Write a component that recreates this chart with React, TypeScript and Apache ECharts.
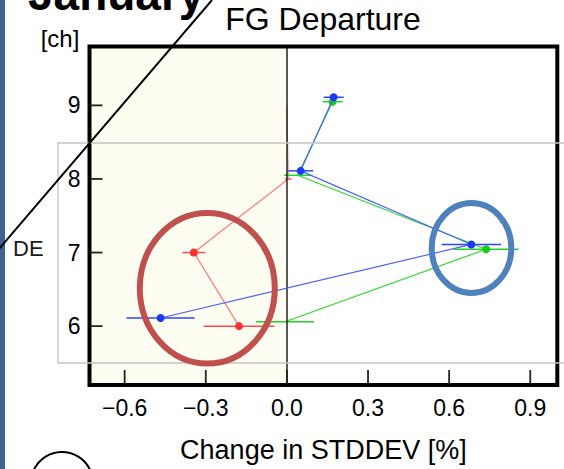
import React, { useEffect, useRef } from "react";
import * as echarts from "echarts";

// ---- data ----
const xTickValues = [-0.6, -0.3, 0, 0.3, 0.6, 0.9];
const yTickValues = [6, 7, 8, 9];

const redX = [0.0, 0.005, -0.344, -0.177];
const redY = [9.0, 8.0, 7.0, 6.0];
const redErr = [0, 0.012, 0.043, 0.131];
const redDot = [false, false, true, true];

const greenX = [0.169, 0.04, 0.737, -0.007];
const greenY = [9.05, 8.05, 7.045, 6.06];
const greenErr = [0.037, 0.05, 0.12, 0.107];
const greenDot = [true, false, true, false];

const blueX = [0.173, 0.051, 0.682, -0.467];
const blueY = [9.11, 8.11, 7.11, 6.11];
const blueErr = [0.037, 0.046, 0.11, 0.126];
const blueDot = [true, true, true, true];

const X_MIN = -0.73;
const X_MAX = 1.0;
const Y_MIN = 5.2;
const Y_MAX = 9.8;

const FONT = '"Liberation Sans", Arial, sans-serif';

const G_LEFT = 89.5, G_RIGHT = 6.7, G_TOP = 46.5, G_BOTTOM = 84;
const W = 564, H = 469;

function lineSeries(name: string, xs: number[], ys: number[], dots: boolean[], lineColor: string, dotColor: string, z: number, extra: any = {}) {
  return {
    type: "line",
    name,
    z,
    symbol: "circle",
    showSymbol: true,
    data: xs.map((x, i) => ({ value: [x, ys[i]], symbolSize: dots[i] ? 8 : 0 })),
    lineStyle: { color: lineColor, width: 1.2 },
    itemStyle: { color: dotColor },
    ...extra,
  };
}

function errSeries(xs: number[], ys: number[], errs: number[], color: string, z: number) {
  return {
    type: "custom",
    z,
    data: xs.map((x, i) => [x, ys[i], errs[i]]),
    encode: { x: 0, y: 1 },
    renderItem: (params: any, api: any) => {
      const x = api.value(0);
      const y = api.value(1);
      const e = api.value(2);
      if (!e) return null;
      const a = api.coord([x - e, y]);
      const b = api.coord([x + e, y]);
      return {
        type: "line",
        shape: { x1: a[0], y1: a[1], x2: b[0], y2: b[1] },
        style: { stroke: color, lineWidth: 1.5 },
      };
    },
  };
}

// plot frame positioned from the cartesian coordinate system
function frameSeries() {
  return {
    type: "custom",
    z: 60,
    clip: false,
    silent: true,
    data: [[0, 7]],
    encode: { x: 0, y: 1 },
    renderItem: (params: any) => {
      const cs = params.coordSys;
      return {
        type: "rect",
        shape: { x: cs.x, y: cs.y, width: cs.width, height: cs.height },
        style: { fill: "none", stroke: "#000", lineWidth: 4 },
      };
    },
  };
}

export default function App() {
  const ref = useRef<HTMLDivElement>(null);
  useEffect(() => {
    if (!ref.current) return;
    const chart = echarts.init(ref.current, null, { renderer: "svg" });
    const fmt = (v: number) => {
      const s = Math.abs(v) < 1e-9 ? "0.0" : v.toFixed(1);
      return s.replace("-", "\u2212");
    };
    const decorations: any[] = [
      { type: "rect", z: 100, shape: { x: 0, y: 0, width: 5, height: 469 }, style: { fill: "#41618f" } },
      {
        type: "text", z: 100,
        style: { text: "January", x: 28, y: -6, font: `bold 46px ${FONT}`, fill: "#000", align: "left", verticalAlign: "middle" },
      },
      {
        type: "text", z: 100,
        style: { text: "FG Departure", x: 323, y: 19, font: `32px ${FONT}`, fill: "#000", align: "center", verticalAlign: "middle" },
      },
      {
        type: "text", z: 100,
        style: { text: "[ch]", x: 60, y: 38, font: `24px ${FONT}`, fill: "#000", align: "center", verticalAlign: "middle" },
      },
      {
        type: "text", z: 100,
        style: { text: "DE", x: 13, y: 248, font: `22px ${FONT}`, fill: "#1a1a1a", align: "left", verticalAlign: "middle" },
      },
      {
        type: "rect", z: 90,
        shape: { x: 58, y: 143, width: 600, height: 220 },
        style: { fill: "none", stroke: "#c4c4c4", lineWidth: 1.3 },
      },
      {
        type: "ellipse", z: 95,
        shape: { cx: 207.3, cy: 288.3, rx: 67.5, ry: 75.3 },
        style: { fill: "none", stroke: "#c0504d", lineWidth: 6 },
      },
      {
        type: "ellipse", z: 95,
        shape: { cx: 471.5, cy: 248, rx: 39.8, ry: 45 },
        style: { fill: "none", stroke: "#4f81bd", lineWidth: 6 },
      },
      {
        type: "line", z: 100,
        shape: { x1: -2, y1: 250, x2: 212, y2: 0 },
        style: { stroke: "#000", lineWidth: 2 },
      },
      {
        type: "circle", z: 100,
        shape: { cx: 62, cy: 483, r: 31 },
        style: { fill: "none", stroke: "#000", lineWidth: 2 },
      },
    ];
    const option: any = {
      animation: false,
      backgroundColor: "#ffffff",
      textStyle: { fontFamily: FONT },
      grid: {
        left: G_LEFT,
        right: G_RIGHT,
        top: G_TOP,
        bottom: G_BOTTOM,
        show: false,
        outerBoundsMode: "none",
      },
      xAxis: {
        type: "value",
        min: X_MIN,
        max: X_MAX,
        axisLine: { show: false, onZero: false },
        splitLine: { show: false },
        axisTick: { show: false },
        axisLabel: {
          customValues: xTickValues,
          formatter: fmt,
          margin: 11,
          fontSize: 23,
          color: "#000",
          fontFamily: FONT,
        },
        name: "Change in STDDEV [%]",
        nameLocation: "middle",
        nameGap: 51,
        nameTextStyle: { fontSize: 27, color: "#000", fontFamily: FONT },
      },
      yAxis: {
        type: "value",
        min: Y_MIN,
        max: Y_MAX,
        axisLine: { show: false, onZero: false },
        splitLine: { show: false },
        axisTick: { show: false },
        axisLabel: {
          customValues: yTickValues,
          formatter: (v: number) => String(v),
          margin: 9,
          fontSize: 23,
          color: "#000",
          fontFamily: FONT,
        },
      },
      series: [
        lineSeries("red", redX, redY, redDot, "#ff7a7a", "#ff3030", 3, {
          markArea: {
            silent: true,
            itemStyle: { color: "#fdfdf2" },
            data: [[{ xAxis: X_MIN }, { xAxis: 0 }]],
          },
          markLine: {
            silent: true,
            symbol: "none",
            label: { show: false },
            lineStyle: { color: "#222", width: 1.5, type: "solid" },
            data: [{ xAxis: 0 }],
          },
        }),
        errSeries(redX, redY, redErr, "#ff4a4a", 3),
        lineSeries("green", greenX, greenY, greenDot, "#2ed82e", "#18cc18", 4),
        errSeries(greenX, greenY, greenErr, "#22d422", 4),
        lineSeries("blue", blueX, blueY, blueDot, "#4a64ff", "#1a36ff", 5),
        errSeries(blueX, blueY, blueErr, "#2a46ff", 5),
        frameSeries(),
      ],
      graphic: decorations,
    };
    chart.setOption(option);

    // inward tick marks, placed with the chart's own axis scales
    const ticks: any[] = [];
    xTickValues.forEach((v) => {
      const p = chart.convertToPixel({ gridIndex: 0 }, [v, Y_MIN]) as number[];
      if (p) {
        ticks.push({
          type: "line", z: 200,
          shape: { x1: p[0], y1: p[1] - 1, x2: p[0], y2: p[1] - 15 },
          style: { stroke: "#222", lineWidth: 1.8 },
        });
      }
    });
    yTickValues.forEach((v) => {
      const p = chart.convertToPixel({ gridIndex: 0 }, [X_MIN, v]) as number[];
      if (p) {
        ticks.push({
          type: "line", z: 200,
          shape: { x1: p[0] + 1, y1: p[1], x2: p[0] + 13, y2: p[1] },
          style: { stroke: "#222", lineWidth: 1.8 },
        });
      }
    });
    chart.setOption({ graphic: [...decorations, ...ticks] }, { replaceMerge: ["graphic"] });

    return () => chart.dispose();
  }, []);
  return (
    <div
      ref={ref}
      style={{ position: "absolute", left: 0, top: 0, width: W, height: H }}
    />
  );
}
